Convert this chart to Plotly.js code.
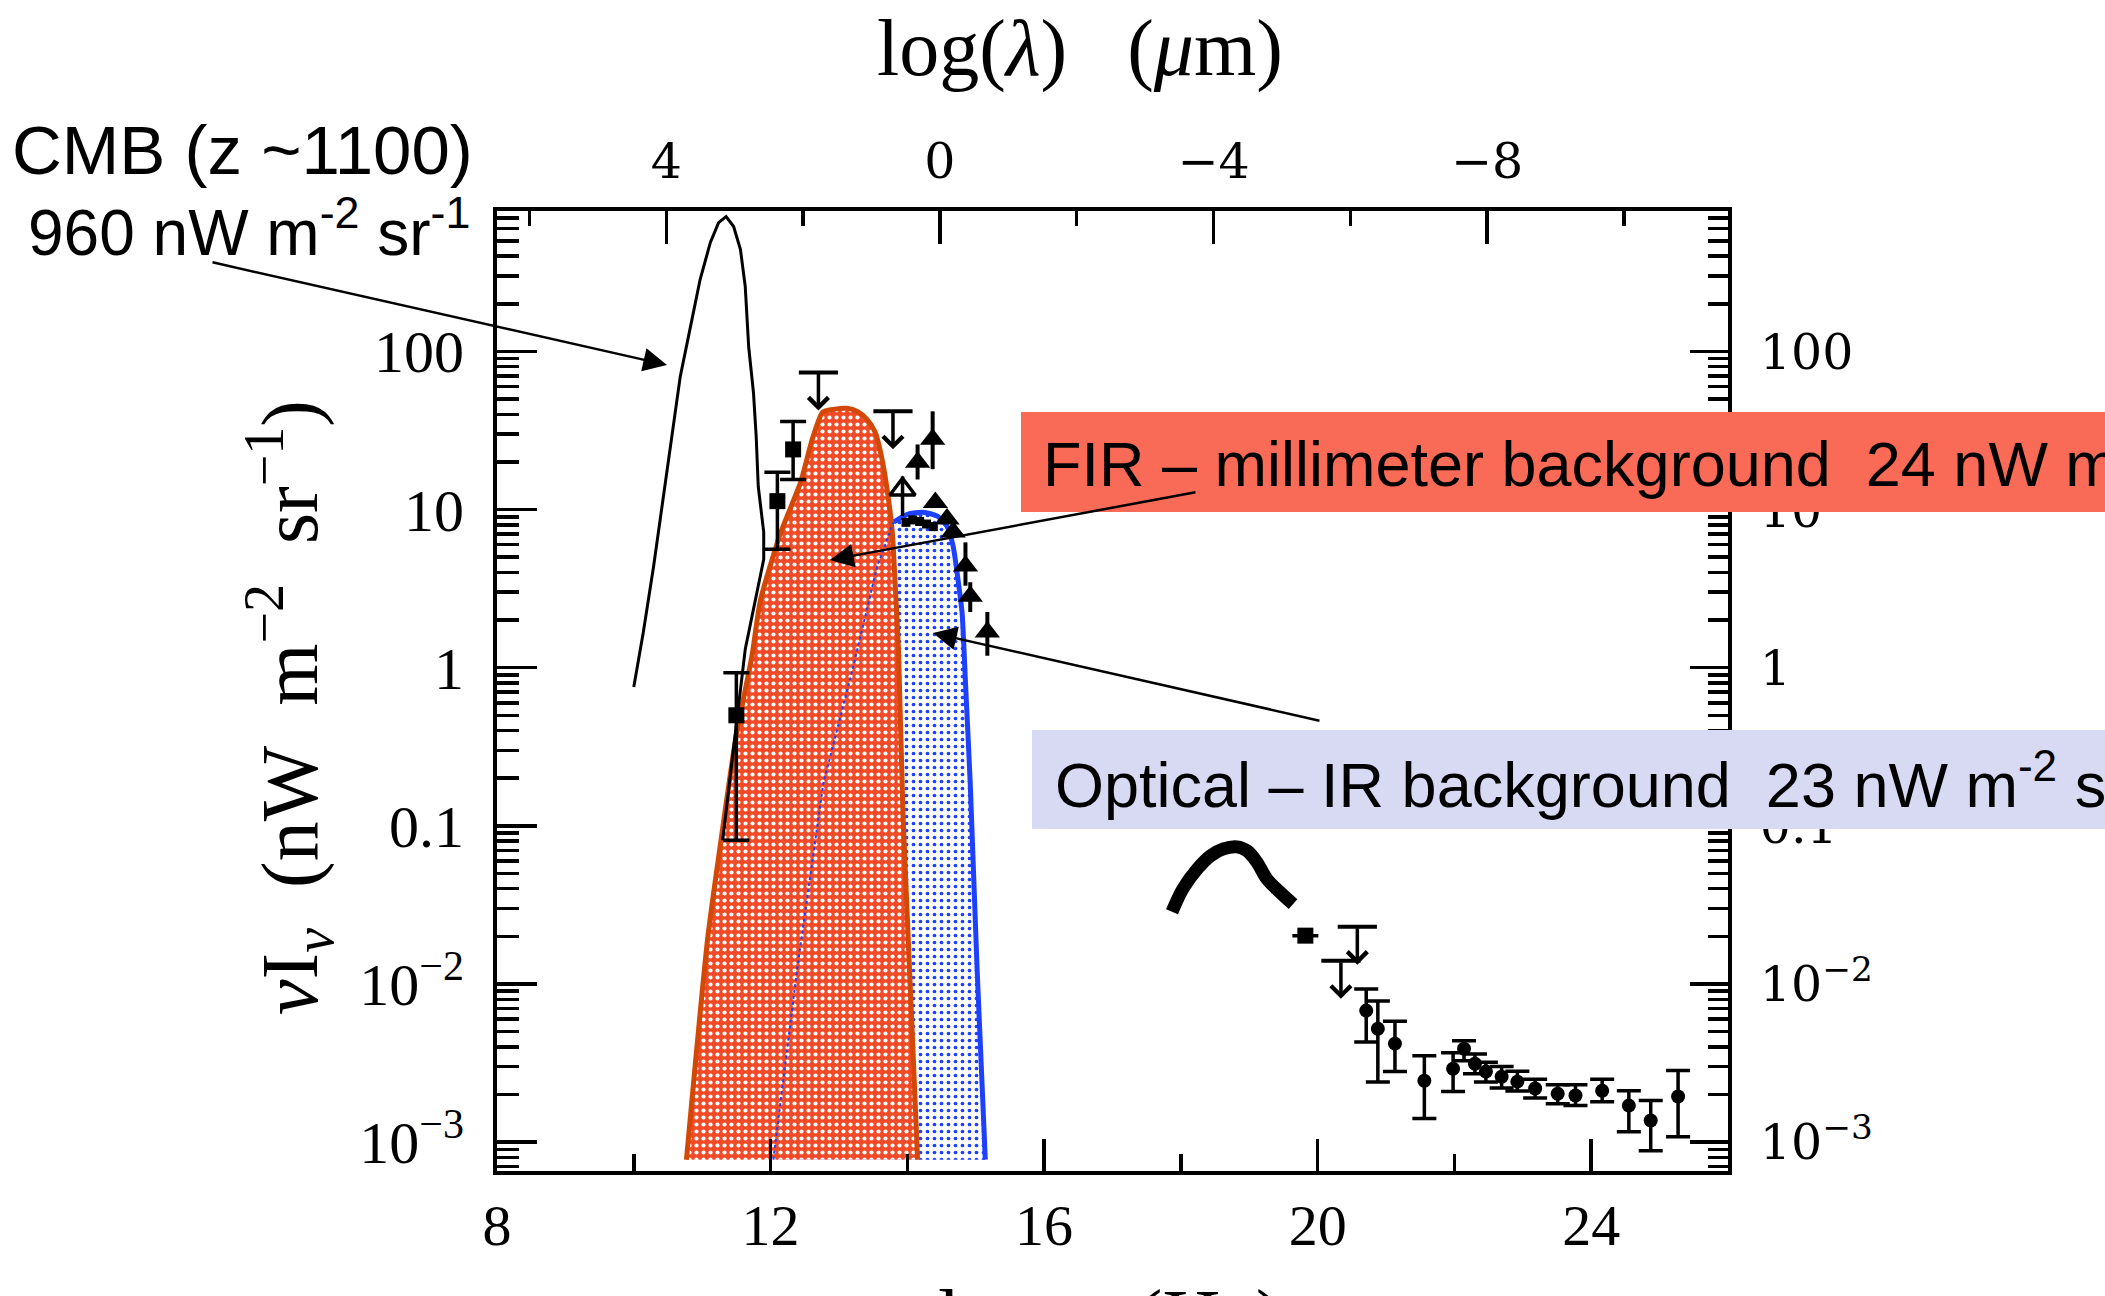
<!DOCTYPE html>
<html><head><meta charset="utf-8">
<script src="https://cdn.plot.ly/plotly-3.0.1.min.js"></script>
<style>html,body{margin:0;padding:0;background:#fff;}#chart{width:2105px;height:1296px;}</style>
</head><body><div id="chart"></div>
<script>
// ---------- DATA (log nu [Hz], nu I_nu [nW m^-2 sr^-1]) ----------
const LOGC = 14.477; // log10(c in micron/s): log(lambda/um) = LOGC - log(nu/Hz)

// CMB blackbody curve
const cmbLogNu = [10.00, 10.14, 10.29, 10.43, 10.57, 10.68, 10.83, 10.97, 11.12, 11.24, 11.35, 11.46, 11.56, 11.63, 11.68, 11.75, 11.79, 11.82, 11.90, 11.90, 11.63, 11.30];
const cmbNuInu = [0.754, 1.68, 4.38, 11.6, 30.8, 69.5, 144, 285, 489, 653, 713, 616, 441, 257, 107, 55, 29, 14, 7.2, 4.85, 1.31, 0.081];

// FIR - millimeter background envelope (CIB)
const firLogNu = [10.77, 11.08, 11.27, 11.49, 11.73, 11.85, 12.14, 12.44, 12.61, 12.76, 12.92, 13.12, 13.27, 13.41, 13.53, 13.63, 13.71, 13.78, 13.82, 13.87, 13.94, 14.15];
const firNuInu = [7.74e-4, 0.0193, 0.078, 0.354, 1.2, 2.64, 6.98, 14.9, 27.8, 41.2, 43, 43.7, 41.7, 37.2, 30.8, 20.8, 12.9, 7.2, 3.5, 1.31, 0.107, 7.74e-4];

// Optical - IR background envelope (COB)
const cobLogNu = [12.04, 12.39, 12.77, 13.21, 13.56, 13.80, 14.00, 14.23, 14.44, 14.58, 14.67, 14.74, 14.80, 14.85, 14.92, 15.02, 15.14];
const cobNuInu = [7.74e-4, 0.01247, 0.184, 1.02, 4.39, 8.32, 9.33, 9.62, 9.08, 7.83, 5.86, 3.63, 2.24, 0.811, 0.184, 0.01247, 7.74e-4];
const cobTopStart = 5; // index where the solid outline begins

// X-ray background hump (dense measurements)
const cxbLogNu = [17.87, 18.03, 18.24, 18.43, 18.62, 18.82, 18.97, 19.11, 19.26, 19.45, 19.64];
const cxbNuInu = [0.0286, 0.040, 0.0534, 0.0645, 0.0714, 0.0736, 0.0694, 0.059, 0.046, 0.038, 0.032];

// FIR measurements (squares) with error bars
const sqLogNu = [11.50, 12.10, 12.33, 19.82];
const sqVal   = [0.5, 11.3, 24, 0.0202];
const sqHi    = [0.93, 17.2, 36, 0.0202];
const sqLo    = [0.081, 5.6, 15.5, 0.0202];

// small points on top of the optical peak
const dotLogNu = [13.98, 14.08, 14.18, 14.28, 14.38];
const dotVal   = [8.3, 8.6, 8.4, 8.1, 7.8];

// galaxy-count lower limits (filled triangles)
const triLogNu = [14.37, 14.15, 14.41, 14.58, 14.67, 14.85, 14.92, 15.17];
const triVal   = [27.8, 19.9, 11.1, 8.7, 7.2, 4.4, 2.83, 1.68];
const triHi    = [41.8, 25.8, 11.1, 8.7, 7.2, 6.2, 3.47, 2.25];
const triLo    = [18.0, 15.5, 11.1, 8.7, 7.2, 3.3, 2.25, 1.19];

// open triangle
const otriLogNu = [13.93];
const otriVal   = [13.4];
const otriHi    = [16.2];
const otriLo    = [9.1];

// upper limits
const ulLogNu = [12.70, 13.79, 20.34, 20.58];
const ulVal   = [73.6, 41.8, 0.014, 0.023];

// gamma-ray background points
const gamLogNu = [20.71, 20.88, 21.13, 21.56, 21.98, 22.14, 22.30, 22.46, 22.69, 22.92, 23.18, 23.51, 23.77, 24.16, 24.55, 24.87, 25.27];
const gamVal   = [0.00678, 0.00521, 0.00419, 0.00244, 0.00291, 0.00389, 0.00313, 0.00279, 0.00259, 0.00241, 0.00218, 0.00202, 0.00197, 0.00211, 0.00170, 0.00137, 0.00194];
const gamHi    = [0.0093, 0.0078, 0.0058, 0.00352, 0.00367, 0.00437, 0.0036, 0.0032, 0.0030, 0.0028, 0.0025, 0.0023, 0.0023, 0.0025, 0.00211, 0.00183, 0.00283];
const gamLo    = [0.0043, 0.0024, 0.00279, 0.00141, 0.00209, 0.00327, 0.0027, 0.0024, 0.0022, 0.0021, 0.0019, 0.00175, 0.0017, 0.0018, 0.00116, 0.00088, 0.00108];

// tick labels
const xTicks = [8, 12, 16, 20, 24];
const xTickText = ['8', '12', '16', '20', '24'];
const lamTicks = [4, 0, -4, -8];
const lamTickText = ['4', '0', '\u22124', '\u22128'];
const yTicks = [1e-3, 1e-2, 0.1, 1, 10, 100];
const yTickText = ['10<sup>\u22123</sup>', '10<sup>\u22122</sup>', '0.1', '1', '10', '100'];

// ---------- LAYOUT HELPERS ----------
const W = 2105, H = 1296, ML = 497, MR = 377, MT = 211, MB = 125;
const PW = W - ML - MR, PH = H - MT - MB;
const px = X => (X - ML) / PW;
const py = Y => (H - MB - Y) / PH;
const YR = [-3.183, 2.888];

const yMinor = [];
for (let k = -4; k <= 2; k++) for (let m = 2; m <= 9; m++) {
  const v = m * Math.pow(10, k);
  const lv = Math.log10(v);
  if (lv > YR[0] && lv < YR[1]) yMinor.push(v);
}
const errUp = (v, hi) => hi.map((h, i) => h - v[i]);
const errDn = (v, lo) => lo.map((l, i) => v[i] - l);

const RED_BG = '#F24A26', RED_LINE = '#D44805', BLUE = '#1E40FF';

const traces = [
  // optical-IR fill
  {x: cobLogNu, y: cobNuInu, mode: 'lines', fill: 'toself',
   fillcolor: '#ffffff',
   fillpattern: {shape: '.', bgcolor: '#ffffff', fgcolor: BLUE, size: 7, solidity: 0.22},
   line: {width: 0, color: 'rgba(0,0,0,0)'}},
  {x: cobLogNu.slice(cobTopStart), y: cobNuInu.slice(cobTopStart), mode: 'lines',
   line: {color: BLUE, width: 5, shape: 'spline', smoothing: 0.6}},
  // FIR fill
  {x: firLogNu, y: firNuInu, mode: 'lines', fill: 'toself',
   fillcolor: RED_BG,
   fillpattern: {shape: '.', bgcolor: RED_BG, fgcolor: '#ffffff', size: 7, solidity: 0.28},
   line: {width: 0, color: 'rgba(0,0,0,0)'}},
  {x: firLogNu, y: firNuInu, mode: 'lines',
   line: {color: RED_LINE, width: 5, shape: 'spline', smoothing: 0.6}},
  // dotted left edge of optical envelope seen through FIR
  {x: cobLogNu.slice(0, cobTopStart + 1), y: cobNuInu.slice(0, cobTopStart + 1), mode: 'lines',
   line: {color: BLUE, width: 2, dash: 'dot'}},
  // CMB
  {x: cmbLogNu, y: cmbNuInu, mode: 'lines', line: {color: 'black', width: 3}},
  // X-ray hump
  {x: cxbLogNu, y: cxbNuInu, mode: 'lines', line: {color: 'black', width: 13, shape: 'spline'}},
  // squares with error bars
  {x: sqLogNu, y: sqVal, mode: 'markers',
   marker: {symbol: 'square', size: 16, color: 'black'},
   error_y: {type: 'data', symmetric: false, array: errUp(sqVal, sqHi), arrayminus: errDn(sqVal, sqLo),
             color: 'black', thickness: 3.5, width: 13}},
  // small dots
  {x: dotLogNu, y: dotVal, mode: 'markers', marker: {symbol: 'square', size: 9, color: 'black'}},
  // filled triangles
  {x: triLogNu, y: triVal, mode: 'markers',
   marker: {symbol: 'triangle-up', size: 22, color: 'black'},
   error_y: {type: 'data', symmetric: false, array: errUp(triVal, triHi), arrayminus: errDn(triVal, triLo),
             color: 'black', thickness: 4, width: 0}},
  // open triangle
  {x: otriLogNu, y: otriVal, mode: 'markers',
   marker: {symbol: 'triangle-up-open', size: 22, color: 'black', line: {width: 3.5, color: 'black'}},
   error_y: {type: 'data', symmetric: false, array: errUp(otriVal, otriHi), arrayminus: errDn(otriVal, otriLo),
             color: 'black', thickness: 3.5, width: 0}},
  // upper limit bars
  {x: ulLogNu, y: ulVal, mode: 'markers',
   marker: {symbol: 'line-ew', size: 28, color: 'black', line: {width: 4, color: 'black'}}},
  // gamma points
  {x: gamLogNu, y: gamVal, mode: 'markers',
   marker: {symbol: 'circle', size: 14, color: 'black'},
   error_y: {type: 'data', symmetric: false, array: errUp(gamVal, gamHi), arrayminus: errDn(gamVal, gamLo),
             color: 'black', thickness: 3.5, width: 12}},
  // dummy for overlay axes
  {x: [], y: [], xaxis: 'x2', yaxis: 'y2', mode: 'markers'}
];

const serif = 'Liberation Serif, Times New Roman, serif';
const dserif = 'DejaVu Serif, serif';
const sans = 'Liberation Sans, Arial, sans-serif';
const sp = '\u00a0';

const annotations = [];
// upper limit arrows
ulLogNu.forEach((x, i) => {
  annotations.push({x: x, y: Math.log10(ulVal[i]), xref: 'x', yref: 'y', text: '', showarrow: true,
    ax: 0, ay: -38, yshift: -38, arrowhead: 4, arrowwidth: 3.5, arrowsize: 1.1, arrowcolor: 'black'});
});
// titles
annotations.push({xref: 'paper', yref: 'paper', x: px(1080), y: py(48), text: 'log(<i>\u03bb</i>)' + sp + sp + sp + '(<i>\u03bc</i>m)',
  showarrow: false, font: {family: serif, size: 80, color: 'black'}, xanchor: 'center', yanchor: 'middle'});
annotations.push({xref: 'paper', yref: 'paper', x: px(289), y: py(708), textangle: -90,
  text: '<i>\u03bd</i>I<sub><i>\u03bd</i></sub>' + sp + sp + '(nW' + sp + sp + 'm<sup>\u22122</sup>' + sp + sp + 'sr<sup>\u22121</sup>)',
  showarrow: false, font: {family: serif, size: 80, color: 'black'}, xanchor: 'center', yanchor: 'middle'});
annotations.push({xref: 'paper', yref: 'paper', x: px(1110), y: py(1272), text: 'log' + sp + '<i>\u03bd</i>' + sp + sp + '(Hz)',
  showarrow: false, font: {family: serif, size: 80, color: 'black'}, xanchor: 'center', yanchor: 'top'});
// CMB labels
annotations.push({xref: 'paper', yref: 'paper', x: px(10), y: py(150), text: 'CMB (z ~1100)',
  showarrow: false, font: {family: sans, size: 69, color: 'black'}, xanchor: 'left', yanchor: 'middle'});
annotations.push({xref: 'paper', yref: 'paper', x: px(26), y: py(228), text: '960 nW m<sup>-2</sup> sr<sup>-1</sup>',
  showarrow: false, font: {family: sans, size: 64, color: 'black'}, xanchor: 'left', yanchor: 'middle'});
// box texts
annotations.push({xref: 'paper', yref: 'paper', x: px(1041), y: py(459),
  text: 'FIR \u2013 millimeter background' + sp + ' 24 nW m<sup>-2</sup> sr<sup>-1</sup>',
  showarrow: false, font: {family: sans, size: 63, color: 'black'}, xanchor: 'left', yanchor: 'middle'});
annotations.push({xref: 'paper', yref: 'paper', x: px(1053), y: py(780),
  text: 'Optical \u2013 IR background' + sp + ' 23 nW m<sup>-2</sup> sr<sup>-1</sup>',
  showarrow: false, font: {family: sans, size: 63, color: 'black'}, xanchor: 'left', yanchor: 'middle'});
// pointer arrows
const arrow = (hx, hy, tx, ty) => ({xref: 'paper', yref: 'paper', x: px(hx), y: py(hy), text: '',
  showarrow: true, ax: tx - hx, ay: ty - hy, arrowhead: 2, arrowwidth: 2.5, arrowsize: 1.9, arrowcolor: 'black'});
annotations.push(arrow(667, 365, 211, 262));
annotations.push(arrow(830, 560, 1197, 492));
annotations.push(arrow(933, 633, 1321, 721));

const shapes = [
  {type: 'rect', xref: 'paper', yref: 'paper', x0: px(1021), x1: px(2200), y0: py(512), y1: py(412),
   fillcolor: '#F96B56', line: {width: 0}, layer: 'above'},
  {type: 'rect', xref: 'paper', yref: 'paper', x0: px(1032), x1: px(2200), y0: py(829), y1: py(730),
   fillcolor: '#D8D9F2', line: {width: 0}, layer: 'above'}
];

const axLine = {showline: true, linecolor: 'black', linewidth: 4, zeroline: false, showgrid: false};

const layout = {
  width: W, height: H,
  margin: {l: ML, r: MR, t: MT, b: MB, pad: 0},
  paper_bgcolor: '#ffffff', plot_bgcolor: '#ffffff',
  showlegend: false, hovermode: false,
  xaxis: Object.assign({}, axLine, {
    range: [8, 26], type: 'linear', tickmode: 'array', tickvals: xTicks, ticktext: xTickText,
    ticks: 'inside', ticklen: 32, tickwidth: 3.5, tickcolor: 'black',
    minor: {tickmode: 'array', tickvals: [10, 14, 18, 22], ticks: 'inside', ticklen: 17, tickwidth: 3.5, tickcolor: 'black', showgrid: false},
    tickfont: {family: serif, size: 58, color: 'black'}, ticklabelstandoff: 0
  }),
  xaxis2: Object.assign({}, axLine, {
    overlaying: 'x', side: 'top', anchor: 'y', range: [LOGC - 8, LOGC - 26], type: 'linear',
    tickmode: 'array', tickvals: lamTicks, ticktext: lamTickText,
    ticks: 'inside', ticklen: 33, tickwidth: 3.5, tickcolor: 'black',
    minor: {tickmode: 'array', tickvals: [6, 2, -2, -6, -10], ticks: 'inside', ticklen: 15, tickwidth: 3.5, tickcolor: 'black', showgrid: false},
    tickfont: {family: dserif, size: 49, color: 'black'}, ticklabelstandoff: 9
  }),
  yaxis: Object.assign({}, axLine, {
    type: 'log', range: YR, tickmode: 'array', tickvals: yTicks, ticktext: yTickText,
    ticks: 'inside', ticklen: 40, tickwidth: 3.5, tickcolor: 'black',
    minor: {tickmode: 'array', tickvals: yMinor, ticks: 'inside', ticklen: 22, tickwidth: 3.5, tickcolor: 'black', showgrid: false},
    tickfont: {family: serif, size: 60, color: 'black'}, ticklabelstandoff: 17
  }),
  yaxis2: Object.assign({}, axLine, {
    overlaying: 'y', side: 'right', anchor: 'x', type: 'log', range: YR,
    tickmode: 'array', tickvals: yTicks, ticktext: yTickText,
    ticks: 'inside', ticklen: 38, tickwidth: 3.5, tickcolor: 'black',
    minor: {tickmode: 'array', tickvals: yMinor, ticks: 'inside', ticklen: 20, tickwidth: 3.5, tickcolor: 'black', showgrid: false},
    tickfont: {family: dserif, size: 49, color: 'black'}, ticklabelstandoff: 18
  }),
  annotations: annotations,
  shapes: shapes
};

traces.forEach(t => { t.showlegend = false; t.hoverinfo = 'skip'; });
Plotly.newPlot('chart', traces, layout, {staticPlot: true, displayModeBar: false});
</script>
</body></html>
